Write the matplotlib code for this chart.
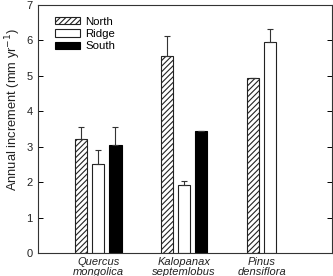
import numpy as np
import matplotlib
matplotlib.use("Agg")
import matplotlib.pyplot as plt

plt.rcParams['font.family'] = ['Liberation Sans', 'DejaVu Sans']
plt.rcParams['hatch.linewidth'] = 0.8

species = ["Quercus\nmongolica", "Kalopanax\nseptemlobus", "Pinus\ndensiflora"]
north = [3.22, 5.57, 4.94]
north_err = [0.34, 0.55, 0.0]
ridge = [2.52, 1.92, 5.96]
ridge_err = [0.40, 0.11, 0.36]
south = [3.06, 3.45, np.nan]
south_err = [0.50, 0.0, 0.0]

fig = plt.figure(figsize=(3.33, 2.76), dpi=100)
ax = fig.add_axes([38/333, 1 - 253/276, 294/333, 248/276])

centers = np.array([0.70, 1.70, 2.70])
width = 0.143
step = 0.2
ekw = dict(elinewidth=0.8, capthick=0.8, ecolor='#333333')

ax.bar(centers - step, north, width, color='white', edgecolor='#222222',
       hatch='//////', linewidth=0.8, label='North')
ax.errorbar(centers - step, north, yerr=[np.zeros(3), north_err], fmt='none',
            capsize=2.4, **ekw)
ax.bar(centers, ridge, width, color='white', edgecolor='#222222',
       linewidth=0.8, label='Ridge')
ax.errorbar(centers, ridge, yerr=[np.zeros(3), ridge_err], fmt='none',
            capsize=2.4, **ekw)
ax.bar(centers + step, south, width, color='black', edgecolor='black',
       linewidth=0.8, label='South')
ax.errorbar(centers + step, south, yerr=[np.zeros(3), south_err], fmt='none',
            capsize=2.4, **ekw)

ax.set_xlim(0, 3.42)
ax.set_ylim(0, 7)
ax.set_yticks(range(0, 8))
label_pos = [centers[0], centers[1], centers[2] - step / 2]
ax.set_xticks(label_pos)
ax.set_xticklabels(species, style='italic', fontsize=8, linespacing=0.95,
                   color='#222222')
ax.tick_params(axis='x', length=0, pad=3)
ax.tick_params(axis='y', direction='in', right=True, length=3.5, width=0.7,
               labelsize=8, labelcolor='#222222', pad=4)
for s in ax.spines.values():
    s.set_linewidth(0.8)
    s.set_color('#333333')

ax.set_ylabel("Annual increment (mm yr$^{-1}$)", fontsize=9.3, color='#222222')
ax.yaxis.set_label_coords(-0.052, 0.58)
ax.legend(loc='upper left', bbox_to_anchor=(0.03, 0.985), frameon=False,
          fontsize=8.2, handlelength=2.2, handleheight=0.6, labelspacing=0.2,
          handletextpad=0.5, borderaxespad=0.3)

fig.savefig("out.png", dpi=100)
